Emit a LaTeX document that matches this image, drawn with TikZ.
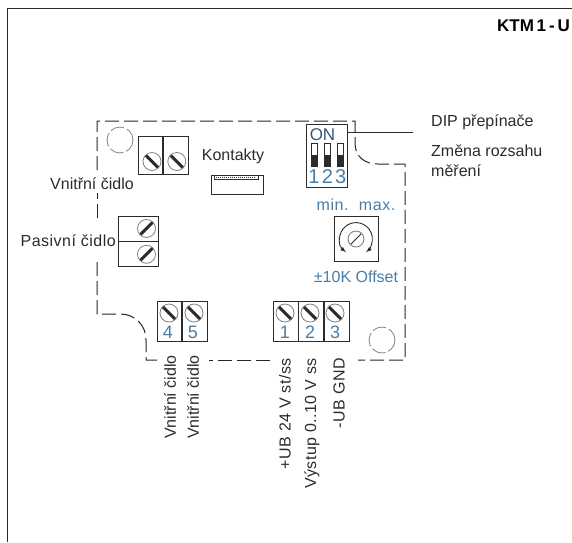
\documentclass[tikz,border=0pt]{standalone}
\usepackage{fontspec}
\usetikzlibrary{positioning}
\setmainfont{Liberation Sans}
\definecolor{inkgray}{HTML}{2B2B2B}
\definecolor{dashgray}{HTML}{262626}
\definecolor{digitblue}{HTML}{4A7DA6}
\tikzset{
  label text/.style={inner sep=0pt,text=inkgray,font=\fontsize{16}{18}\selectfont},
  wide text/.style={label text,font=\fontsize{16}{18}\selectfont\addfontfeature{LetterSpace=3}},
  blue text/.style={inner sep=0pt,text=digitblue,font=\fontsize{18}{20}\selectfont},
  side text/.style={rotate=90,anchor=east},
  outline/.style={draw=dashgray,line width=1pt,dash pattern=on 14pt off 5pt},
  cell/.style={draw=inkgray,line width=0.9pt,inner sep=0pt},
  screw back/.style={circle,draw=gray,line width=0.8pt,minimum size=18pt,inner sep=0pt,
    path picture={\draw[line width=3pt,inkgray] (path picture bounding box.north west) -- (path picture bounding box.south east);}},
  screw fwd/.style={circle,draw=gray,line width=0.8pt,minimum size=18pt,inner sep=0pt,
    path picture={\draw[line width=3pt,inkgray] (path picture bounding box.south west) -- (path picture bounding box.north east);}},
}
\begin{document}
\begin{tikzpicture}[x=1pt,y=-1pt]
\useasboundingbox (0,0) rectangle (572,542);
% frame
\coordinate (framebl) at (7.5,542);
\coordinate (frametl) at (7.5,8);
\coordinate (frametr) at (572,8);
\draw[inkgray,line width=1pt] (framebl) -- (frametl) -- (frametr);
\node[anchor=east,inner sep=0pt,font=\fontsize{17}{19}\selectfont\bfseries] (title) at (570,26) {KTM\,1\,-\,U};
% board outline
\draw[outline] (97,170) -- (97,121) -- (355,121) -- (355,143) .. controls (355,157) and (365,164) .. (378,164) -- (405,164) -- (405,360) -- (358,360);
\draw[outline] (270,360) -- (209,360);
\draw[outline] (157,360) -- (146,360) -- (146,340) .. controls (146,325) and (135,314) .. (120,314) -- (97,314) -- (97,260);
\draw[outline] (97,218) -- (97,193);
\draw[gray,line width=0.8pt,dash pattern=on 14pt off 3pt] (120,140) circle (13);
\draw[gray,line width=0.8pt,dash pattern=on 14pt off 3pt] (382,340) circle (13);
% upper terminal
\node[cell,minimum width=24.5pt,minimum height=38pt] (top1) at (150.2,155) {};
\node[cell,minimum width=25.5pt,minimum height=38pt,right=0pt of top1] (top2) {};
\node[screw back] (topscrew1) at (152,161.5) {};
\node[screw back,right=6pt of topscrew1] (topscrew2) {};
\node[label text,anchor=east] (inner) at (134,184) {Vnitřní čidlo};
% passive terminal
\node[cell,minimum width=40pt,minimum height=25pt] (pas1) at (138,228.5) {};
\node[cell,minimum width=40pt,minimum height=25pt,below=0pt of pas1] (pas2) {};
\node[screw fwd] (passcrew1) at (146.5,228.5) {};
\node[screw fwd,below=7pt of passcrew1] (passcrew2) {};
\node[wide text,anchor=east] (passive) at (116,241) {Pasivní čidlo};
% contacts
\node[label text] (contacts) at (233,156) {Kontakty};
\node[cell,minimum width=52pt,minimum height=19pt] (socket) at (237,184.5) {};
\draw[inkgray,line width=0.8pt] (214,175) -- (214,179.5) -- (258,179.5) -- (258,175);
\draw[inkgray,line width=1.8pt,dash pattern=on 1pt off 1pt] (216,177.5) -- (256,177.5);
% dip switches
\node[cell,minimum width=41pt,minimum height=63pt] (dip) at (326.5,155.5) {};
\node[blue text,text=digitblue!70!black,font=\fontsize{17}{19}\selectfont] (on) at (322.5,134.5) {ON};
\node[cell,minimum width=6pt,minimum height=23pt] (sw1) at (314,154.5) {};
\node[cell,minimum width=6pt,minimum height=23pt,right=6.5pt of sw1] (sw2) {};
\node[cell,minimum width=6pt,minimum height=23pt,right=6.5pt of sw2] (sw3) {};
\fill[inkgray] (sw1.south west) rectangle ([yshift=11pt]sw1.south east);
\fill[inkgray] (sw2.south west) rectangle ([yshift=11pt]sw2.south east);
\fill[inkgray] (sw3.south west) rectangle ([yshift=11pt]sw3.south east);
\node[blue text,font=\fontsize{20}{22}\selectfont,below=3pt of sw1] (dig1) {1};
\node[blue text,font=\fontsize{20}{22}\selectfont,below=3pt of sw2] (dig2) {2};
\node[blue text,font=\fontsize{20}{22}\selectfont,below=3pt of sw3] (dig3) {3};
\coordinate (dipend) at (413,132);
\draw[inkgray,line width=0.9pt] (dip.east |- dipend) -- (dipend);
\node[label text,anchor=west] (dipnote) at (431,122) {DIP přepínače};
\node[label text,anchor=west] (rangeone) at (431,151) {Změna rozsahu};
\node[label text,anchor=west] (rangetwo) at (431,171) {měření};
% offset trimmer
\node[blue text,font=\fontsize{16}{18}\selectfont\addfontfeature{LetterSpace=4}] (minmax) at (356,205) {min.\ \ max.};
\node[cell,minimum width=44pt,minimum height=45pt] (trim) at (356,238.5) {};
\node[circle,draw=gray,line width=0.9pt,minimum size=16pt,inner sep=0pt,
  path picture={\draw[inkgray,line width=0.9pt] (path picture bounding box.south west) -- (path picture bounding box.north east);}] (trimknob) at (356,239) {};
\draw[inkgray,line width=0.9pt,latex-latex] (346,252) arc[start angle=127.6,end angle=412.4,radius=16.4];
\node[blue text,font=\fontsize{16}{18}\selectfont] (offset) at (356,277) {±10K Offset};
% lower terminals
\node[cell,minimum width=24.5pt,minimum height=40pt] (low4) at (169.3,321) {};
\node[cell,minimum width=24.5pt,minimum height=40pt,right=0pt of low4] (low5) {};
\node[cell,minimum width=25pt,minimum height=40pt] (low1) at (285.5,321) {};
\node[cell,minimum width=24.5pt,minimum height=40pt,right=0pt of low1] (low2) {};
\node[cell,minimum width=25.5pt,minimum height=40pt,right=0pt of low2] (low3) {};
\node[screw back] (screw4) at (169,313) {};
\node[screw back] (screw5) at (194,313) {};
\node[screw back] (screw1) at (285,313) {};
\node[screw back] (screw2) at (310,313) {};
\node[screw back] (screw3) at (335,313) {};
\node[blue text] (dig4) at (168,332) {4};
\node[blue text] (dig5) at (193,332) {5};
\node[blue text] (digone) at (285,332) {1};
\node[blue text] (digtwo) at (310,332) {2};
\node[blue text] (digthree) at (335,332) {3};
\node[label text,side text] (innerone) at (170,355) {Vnitřní čidlo};
\node[label text,side text] (innertwo) at (193,355) {Vnitřní čidlo};
\node[wide text,side text] (supply) at (285,358) {+UB 24 V st/ss};
\node[wide text,side text] (output) at (312,358) {Výstup 0..10 V ss};
\node[wide text,side text] (ground) at (339,358) {-UB GND};
\end{tikzpicture}
\end{document}
